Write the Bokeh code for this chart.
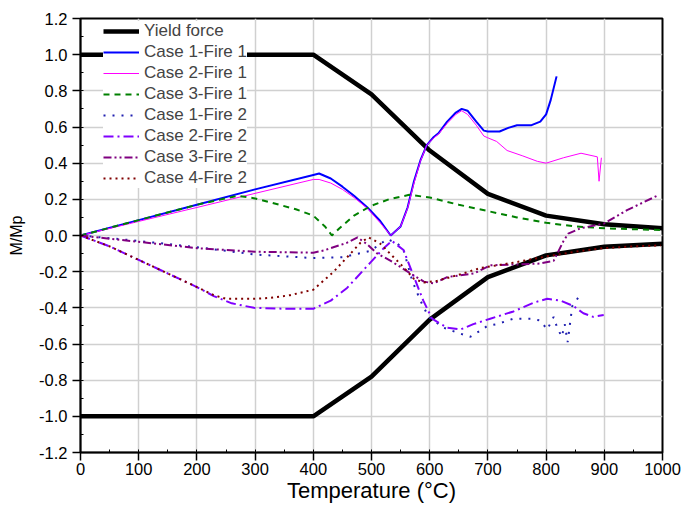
import math
from bokeh.plotting import figure
from bokeh.models import FixedTicker, PrintfTickFormatter, Range1d, Legend, LegendItem
from bokeh.embed import file_html
from bokeh.resources import INLINE

# ---------------- data ----------------
x_ticks = [0, 100, 200, 300, 400, 500, 600, 700, 800, 900, 1000]
y_ticks = [-1.2, -1.0, -0.8, -0.6, -0.4, -0.2, 0.0, 0.2, 0.4, 0.6, 0.8, 1.0, 1.2]

yield_T = [0, 400, 500, 600, 700, 800, 900, 1000]
yield_pos = [1.0, 1.0, 0.78, 0.47, 0.23, 0.11, 0.062, 0.04]
yield_neg = [-1.0, -1.0, -0.78, -0.465, -0.23, -0.11, -0.062, -0.045]

c1f1_T = [0, 100, 200, 300, 400, 410, 430, 450, 470, 493, 515, 533, 550, 562, 573, 584, 595, 607,
          615, 630, 645, 655, 665, 680, 693, 700, 720, 735, 750, 775, 790, 800, 808, 818]
c1f1_M = [0, 0.085, 0.17, 0.255, 0.335, 0.343, 0.315, 0.27, 0.22, 0.155, 0.08, 0.0, 0.05, 0.155, 0.3,
          0.415, 0.5, 0.545, 0.565, 0.63, 0.68, 0.70, 0.69, 0.63, 0.58, 0.575, 0.575, 0.595, 0.61,
          0.61, 0.63, 0.67, 0.75, 0.88]

c2f1_T = [0, 100, 200, 300, 400, 410, 430, 450, 470, 493, 515, 533, 550, 562, 573, 584, 595, 607,
          615, 630, 645, 655, 665, 680, 693, 700, 715, 733, 760, 785, 800, 830, 860, 888, 891, 895]
c2f1_M = [0, 0.078, 0.155, 0.233, 0.31, 0.31, 0.29, 0.255, 0.21, 0.15, 0.07, 0.0, 0.05, 0.15, 0.29,
          0.41, 0.5, 0.54, 0.56, 0.62, 0.67, 0.69, 0.67, 0.61, 0.55, 0.54, 0.52, 0.47, 0.44, 0.41,
          0.40, 0.43, 0.455, 0.435, 0.30, 0.43]

c3f1_T = [0, 100, 200, 270, 300, 330, 370, 400, 420, 432, 445, 470, 500, 530, 565, 600, 650, 700,
          750, 800, 850, 900, 1000]
c3f1_M = [0, 0.085, 0.17, 0.22, 0.205, 0.18, 0.145, 0.11, 0.05, 0.0, 0.04, 0.11, 0.165, 0.2, 0.225,
          0.21, 0.17, 0.135, 0.1, 0.07, 0.05, 0.04, 0.03]

c1f2_T = [0, 100, 200, 300, 400, 450, 498, 527, 545, 555, 570, 584, 598, 624, 650, 670, 690, 699,
          716, 744, 773, 790, 802, 813, 819, 827, 832, 837, 845, 856]
c1f2_M = [0, -0.03, -0.065, -0.105, -0.125, -0.12, -0.085, -0.02, -0.045, -0.08, -0.25, -0.36, -0.45,
          -0.51, -0.54, -0.56, -0.52, -0.50, -0.49, -0.46, -0.46, -0.47, -0.52, -0.45, -0.51, -0.56,
          -0.49, -0.59, -0.39, -0.34]

c2f2_T = [0, 50, 100, 150, 200, 229, 260, 298, 350, 400, 430, 458, 498, 521, 535, 555, 573, 589,
          604, 630, 653, 675, 704, 744, 780, 802, 825, 847, 864, 881, 899]
c2f2_M = [0, -0.06, -0.135, -0.21, -0.285, -0.335, -0.375, -0.40, -0.405, -0.405, -0.36, -0.29,
          -0.15, -0.07, -0.03, -0.08, -0.23, -0.36, -0.46, -0.51, -0.52, -0.49, -0.46, -0.42, -0.37,
          -0.35, -0.36, -0.39, -0.43, -0.45, -0.44]

c3f2_T = [0, 100, 200, 300, 400, 418, 458, 476, 493, 510, 533, 567, 590, 607, 630, 676, 704, 750,
          790, 813, 830, 838, 859, 899, 939, 991]
c3f2_M = [0, -0.035, -0.07, -0.09, -0.095, -0.083, -0.04, -0.01, -0.05, -0.10, -0.14, -0.21, -0.255,
          -0.265, -0.23, -0.21, -0.165, -0.16, -0.155, -0.14, -0.03, 0.01, 0.04, 0.065, 0.14, 0.22]

c4f2_T = [0, 50, 100, 150, 200, 229, 250, 300, 326, 360, 400, 435, 464, 481, 495, 515, 538, 555,
          573, 590, 613, 647, 687, 744, 802, 850, 899, 950, 997]
c4f2_M = [0, -0.06, -0.135, -0.21, -0.285, -0.33, -0.35, -0.35, -0.345, -0.33, -0.30, -0.20, -0.10,
          -0.04, -0.01, -0.045, -0.12, -0.175, -0.24, -0.26, -0.25, -0.22, -0.18, -0.15, -0.115,
          -0.09, -0.07, -0.06, -0.055]

labels = ["Yield force", "Case 1-Fire 1", "Case 2-Fire 1", "Case 3-Fire 1",
          "Case 1-Fire 2", "Case 2-Fire 2", "Case 3-Fire 2", "Case 4-Fire 2"]

FONT = "Liberation Sans"

p = figure(width=683, height=506, output_backend="svg", toolbar_location=None,
           x_range=Range1d(0, 1000), y_range=Range1d(-1.2, 1.2),
           min_border_left=80, min_border_right=21, min_border_top=18, min_border_bottom=54)
p.background_fill_color = "white"
p.border_fill_color = "white"
p.outline_line_color = "black"
p.outline_line_width = 2

# axes
p.xaxis.ticker = FixedTicker(ticks=x_ticks, minor_ticks=list(range(0, 1001, 50)))
p.yaxis.ticker = FixedTicker(ticks=y_ticks, minor_ticks=[round(-1.2 + 0.1 * i, 1) for i in range(25)])
p.yaxis.formatter = PrintfTickFormatter(format="%.1f")
for ax in (p.xaxis[0], p.yaxis[0]):
    ax.axis_line_color = "black"
    ax.axis_line_width = 1.5
    ax.major_tick_line_color = "black"
    ax.major_tick_line_width = 1.5
    ax.minor_tick_line_color = "black"
    ax.major_tick_out = 8
    ax.major_tick_in = 0
    ax.minor_tick_out = 0
    ax.minor_tick_in = 3
    ax.major_label_text_font = FONT
    ax.major_label_text_font_size = "16.5px"
    ax.major_label_text_color = "black"
    ax.axis_label_text_font = FONT
    ax.axis_label_text_font_style = "normal"
    ax.axis_label_text_color = "black"
p.xaxis.axis_label = "Temperature (°C)"
p.xaxis.axis_label_text_font_size = "22px"
p.xaxis.major_label_standoff = 2
p.xaxis.axis_label_standoff = 0
p.yaxis.axis_label = "M/Mp"
p.yaxis.axis_label_text_font_size = "16px"
p.yaxis.major_label_standoff = 5
p.yaxis.axis_label_standoff = 11

p.xgrid.grid_line_color = "#d0d0d0"
p.ygrid.grid_line_color = "#d0d0d0"
p.xgrid.grid_line_width = 1.5
p.ygrid.grid_line_width = 1.5

# lines
nan = float("nan")
r_yield = p.line(yield_T + [nan] + yield_T, yield_pos + [nan] + yield_neg,
                 line_color="black", line_width=4.5)
r1 = p.line(c1f1_T, c1f1_M, line_color="#0000ff", line_width=2)
r2 = p.line(c2f1_T, c2f1_M, line_color="#ff00ff", line_width=1)
r3 = p.line(c3f1_T, c3f1_M, line_color="#008000", line_width=2, line_dash="6 5")
r4 = p.line(c1f2_T, c1f2_M, line_color="#2020b0", line_width=2, line_dash="2 7")
r5 = p.line(c2f2_T, c2f2_M, line_color="#8000ff", line_width=2, line_dash="10 4 2 4")
r6 = p.line(c3f2_T, c3f2_M, line_color="#800080", line_width=2, line_dash="8 3 2 3 2 3")
r7 = p.line(c4f2_T, c4f2_M, line_color="#800000", line_width=2, line_dash="2 4")

renderers = [r_yield, r1, r2, r3, r4, r5, r6, r7]
legend = Legend(items=[LegendItem(label=l, renderers=[r]) for l, r in zip(labels, renderers)],
                location=(23, 264), padding=2, margin=0, spacing=1,
                label_height=20, glyph_height=20, glyph_width=36, label_standoff=5,
                label_text_font=FONT, label_text_font_size="17px",
                border_line_color=None, background_fill_color="white", background_fill_alpha=1.0)
p.add_layout(legend, "center")

open("out.html", "w").write(file_html(p, INLINE))
